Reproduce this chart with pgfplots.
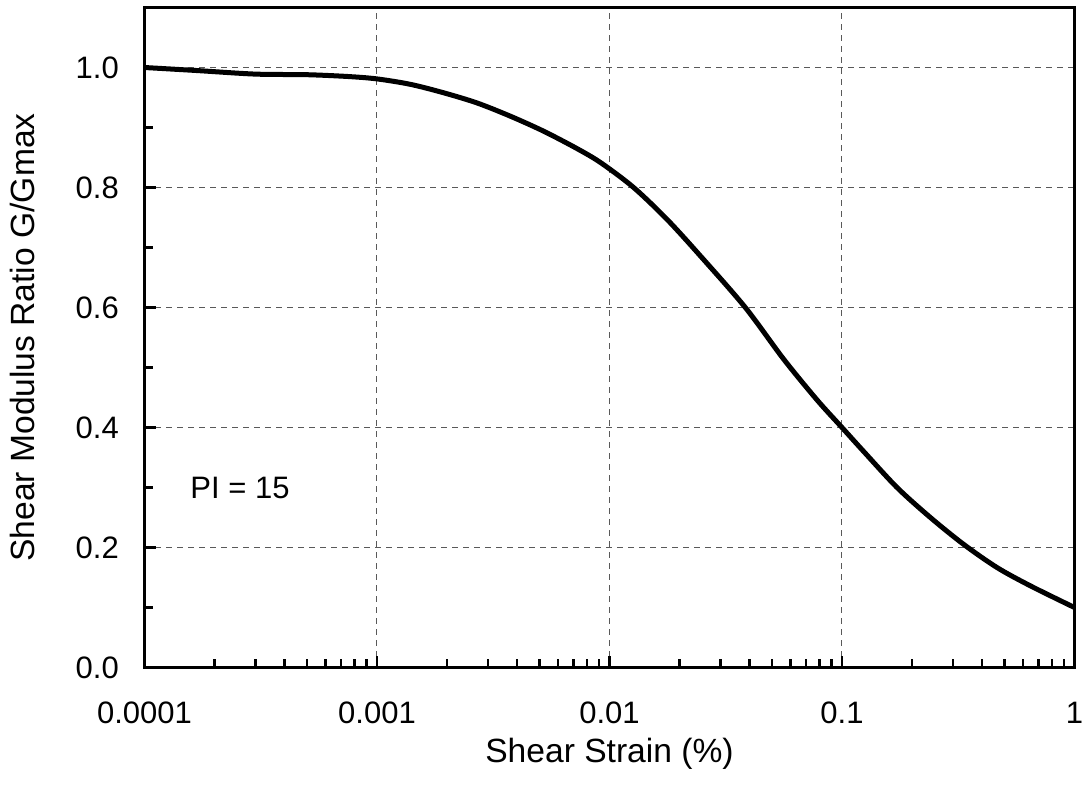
\documentclass[border=0pt]{standalone}
\usepackage{fontspec}
\setmainfont{Liberation Sans}
\usepackage{pgfplots}
\pgfplotsset{compat=1.18}
\begin{document}
\fontsize{15.5}{18}\selectfont
\begin{tikzpicture}
\begin{axis}[
  at={(0,0)}, anchor=south west,
  scale only axis,
  width=465pt, height=330pt,
  xmode=log, log basis x=10,
  xmin=0.0001, xmax=1,
  ymin=0, ymax=1.1,
  xtick={0.0001,0.001,0.01,0.1,1},
  xticklabels={0.0001,0.001,0.01,0.1,1},
  minor xtick={0.0002,0.0003,0.0004,0.0005,0.0006,0.0007,0.0008,0.0009,
               0.002,0.003,0.004,0.005,0.006,0.007,0.008,0.009,
               0.02,0.03,0.04,0.05,0.06,0.07,0.08,0.09,
               0.2,0.3,0.4,0.5,0.6,0.7,0.8,0.9},
  ytick={0,0.2,0.4,0.6,0.8,1.0},
  minor ytick={0.1,0.3,0.5,0.7,0.9},
  yticklabel style={/pgf/number format/fixed,/pgf/number format/precision=1,/pgf/number format/fixed zerofill},
  /pgf/number format/assume math mode=true,
  tick align=inside,
  xtick pos=bottom, ytick pos=left,
  major tick length=6pt, minor tick length=4.5pt,
  tick style={black, line width=1.2pt},
  axis line style={black, line width=1.2pt},
  grid=major,
  major grid style={gray!70!black, dash pattern=on 3pt off 2.5pt, line width=0.5pt},
  minor grid style={draw=none},
  xticklabel style={yshift=-12pt},
  yticklabel style={xshift=-7.5pt},
  xlabel={\fontsize{16.8}{19}\selectfont Shear Strain (\%)},
  ylabel={\fontsize{16.8}{19}\selectfont Shear Modulus Ratio G/Gmax},
  xlabel style={yshift=3.5pt},
  ylabel style={yshift=10pt},
]
\addplot[black, line width=2.5pt, smooth, tension=0.5] coordinates {
(0.0001,1.000)
(0.000167,0.995)
(0.0003,0.989)
(0.0005,0.988)
(0.00075,0.985)
(0.001,0.981)
(0.00139,0.972)
(0.00193,0.958)
(0.00269,0.941)
(0.00374,0.919)
(0.0052,0.894)
(0.00724,0.865)
(0.0092,0.841)
(0.0127,0.800)
(0.01767,0.747)
(0.0246,0.686)
(0.0384,0.600)
(0.0561,0.514)
(0.0781,0.446)
(0.1,0.400)
(0.124,0.360)
(0.1725,0.300)
(0.24,0.250)
(0.333,0.2055)
(0.464,0.1667)
(0.647,0.136)
(1.0,0.100)
};
\node[anchor=west, inner sep=0pt] at (axis cs:0.000157,0.30) {PI = 15};
\end{axis}
\pgfresetboundingbox
\path[use as bounding box] (-72.25pt,-61pt) rectangle (469.25pt,333.75pt);
\end{tikzpicture}
\end{document}
